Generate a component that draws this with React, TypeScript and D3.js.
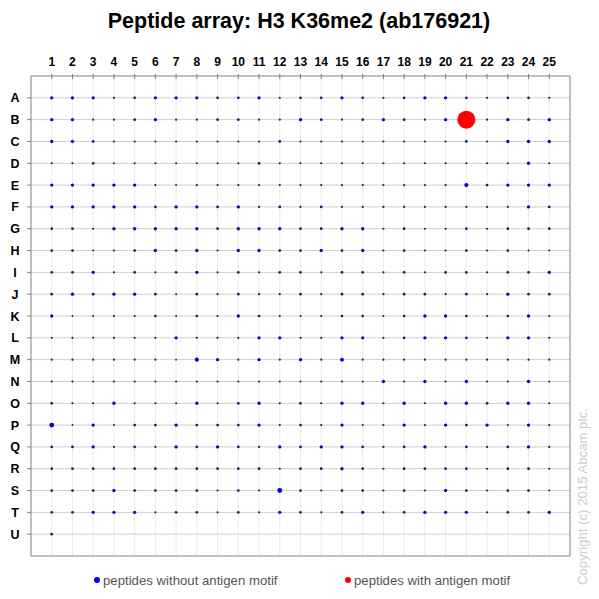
import React from "react";
import * as d3 from "d3";

// labels
const colLabels = d3.range(1, 26).map(String);
const rowLabels = "ABCDEFGHIJKLMNOPQRSTU".split("");

// signal per spot (arbitrary units), rows A..U, columns 1..25
// -1 = no spot
const signals: number[][] = [
  [2.5, 2.5, 2.5, 0.8, 1.5, 2.5, 2.5, 2.5, 1.5, 1.5, 2.5, 0.8, 1.5, 1.5, 2.5, 1.5, 0.8, 1.5, 2.5, 2.5, 1.5, 0.8, 1.5, 1.5, 0.8],
  [2.5, 2.5, 0.8, 0.8, 1.5, 2.5, 0.8, 0.8, 1.5, 1.5, 0.8, 0.8, 2.5, 1.5, 0.8, 1.5, 2.5, 1.5, 0.8, 2.5, 100, 0.8, 2.5, 1.5, 2.5],
  [2.5, 2.5, 1.5, 0.8, 0.8, 0.8, 0.8, 0.8, 0.8, 0.8, 0.8, 1.5, 0.8, 0.8, 0.8, 0.8, 0.8, 0.8, 0.8, 0.8, 1.5, 0.8, 2.5, 2.5, 2.5],
  [0.8, 0.8, 1.5, 0.6, 0.8, 0.8, 0.8, 0.6, 0.8, 0.8, 1.5, 0.8, 0.8, 0.8, 0.8, 0.8, 0.8, 0.8, 0.8, 0.8, 0.8, 0.8, 0.8, 2.5, 0.8],
  [2.5, 2.5, 2.5, 2.5, 2.5, 0.8, 0.6, 0.8, 0.8, 0.8, 0.8, 0.8, 0.8, 0.8, 0.8, 0.8, 0.8, 0.8, 0.8, 0.8, 4, 1.5, 2.5, 2.5, 2.5],
  [2.5, 2.5, 2.5, 2.5, 2.5, 1.5, 2.5, 2.5, 1.5, 2.5, 0.8, 1.5, 0.8, 1.5, 0.8, 0.8, 0.8, 0.8, 0.8, 0.8, 0.8, 0.8, 0.8, 2.5, 1.5],
  [1.5, 1.5, 0.8, 2.5, 2.5, 2.5, 2.5, 2.5, 1.5, 2.5, 2.5, 2.5, 1.5, 1.5, 2.5, 2.5, 0.8, 1.5, 0.8, 0.8, 1.5, 0.8, 1.5, 1.5, 1.5],
  [1.5, 1.5, 0.8, 0.8, 1.5, 2.5, 1.5, 2.5, 0.8, 2.5, 2.5, 1.5, 1.5, 2.5, 1.5, 2.5, 0.8, 1.5, 0.8, 0.8, 1.5, 0.8, 1.5, 0.6, 0.8],
  [1.5, 1.5, 2.5, 0.8, 1.5, 0.8, 1.5, 2.5, 0.8, 1.5, 0.8, 1.5, 1.5, 0.8, 1.5, 1.5, 0.8, 1.5, 0.8, 1.5, 1.5, 0.8, 1.5, 1.5, 2.5],
  [1.5, 2.5, 1.5, 2.5, 2.5, 1.5, 0.6, 1.5, 0.8, 1.5, 0.8, 0.8, 1.5, 0.8, 1.5, 1.5, 0.8, 1.5, 1.5, 0.8, 1.5, 0.8, 2.5, 1.5, 1.5],
  [2.5, 0.6, 0.6, 0.8, 0.8, 1.5, 0.6, 1.5, 0.8, 2.5, 1.5, 0.8, 0.6, 0.8, 1.5, 1.5, 0.6, 1.5, 2.5, 2.5, 1.5, 0.8, 1.5, 2.5, 0.8],
  [0.6, 0.8, 0.6, 0.8, 0.8, 0.8, 2.5, 0.8, 0.8, 0.8, 2.5, 2.5, 0.8, 0.8, 2.5, 2.5, 0.8, 1.5, 2.5, 2.5, 1.5, 0.8, 2.5, 2.5, 0.8],
  [0.8, 0.8, 0.8, 0.8, 0.8, 0.8, 0.6, 4, 2.5, 0.8, 2.5, 0.8, 2.5, 0.8, 3.5, 0.8, 0.8, 0.8, 0.8, 0.8, 0.8, 0.8, 0.8, 0.8, 0.8],
  [0.8, 0.8, 0.8, 0.8, 0.8, 0.8, 0.8, 0.8, 0.8, 0.8, 0.8, 0.8, 0.8, 0.8, 0.8, 0.8, 2.5, 0.8, 2.5, 0.8, 2.5, 0.8, 0.8, 2.5, 0.8],
  [1.5, 0.8, 0.8, 2.5, 0.8, 0.8, 0.8, 2.5, 0.8, 1.5, 2.5, 0.8, 1.5, 0.8, 2.5, 2.5, 0.8, 2.5, 0.8, 2.5, 2.5, 1.5, 2.5, 2.5, 0.8],
  [6, 0.6, 2.5, 0.6, 1.5, 1.5, 2.5, 1.5, 1.5, 1.5, 2.5, 0.8, 1.5, 0.8, 2.5, 0.6, 0.8, 2.5, 0.8, 2.5, 1.5, 2.5, 0.6, 2.5, 0.8],
  [1.5, 1.5, 2.5, 0.8, 1.5, 0.8, 2.5, 1.5, 2.5, 1.5, 0.8, 2.5, 1.5, 2.5, 2.5, 1.5, 0.8, 1.5, 2.5, 0.8, 1.5, 0.8, 1.5, 2.5, 0.8],
  [1.5, 1.5, 1.5, 1.5, 1.5, 1.5, 1.5, 1.5, 1.5, 1.5, 1.5, 0.8, 1.5, 1.5, 2.5, 1.5, 0.8, 1.5, 1.5, 1.5, 1.5, 0.8, 1.5, 1.5, 0.8],
  [1.5, 1.5, 1.5, 2.5, 1.5, 1.5, 1.5, 1.5, 0.8, 1.5, 0.8, 6, 1.5, 0.8, 1.5, 1.5, 0.8, 1.5, 0.8, 2.5, 1.5, 0.8, 1.5, 1.5, 0.8],
  [1.5, 1.5, 2.5, 2.5, 2.5, 0.8, 1.5, 1.5, 0.8, 1.5, 0.8, 2.5, 1.5, 0.8, 1.5, 2.5, 0.8, 1.5, 2.5, 2.5, 2.5, 0.8, 1.5, 1.5, 2.5],
  [1.5, -1, -1, -1, -1, -1, -1, -1, -1, -1, -1, -1, -1, -1, -1, -1, -1, -1, -1, -1, -1, -1, -1, -1, -1],
];

// spots that carry the antigen motif
const motifSpots = ["B21"];

const legendItems = [
  { label: "peptides without antigen motif", color: "#0000ff" },
  { label: "peptides with antigen motif", color: "#ff0000" },
];

const title = "Peptide array: H3 K36me2 (ab176921)";
const copyright = "Copyright (c) 2015 Abcam plc.";

const width = 599;
const height = 599;
const plot = { left: 31, top: 76, right: 570, bottom: 556 };
const font = "'Liberation Sans', Arial, sans-serif";

const App: React.FC = () => {
  const x = d3
    .scaleLinear()
    .domain([0, colLabels.length + 1])
    .range([plot.left, plot.right]);
  const y = d3
    .scaleLinear()
    .domain([0, rowLabels.length + 1])
    .range([plot.top, plot.bottom]);
  const r = d3.scaleSqrt().domain([0, 100]).range([0.3, 9]);
  const blue = d3
    .scaleLinear<string>()
    .domain([0.6, 4])
    .range(["#202058", "#0000e6"])
    .clamp(true);

  const spots = signals.flatMap((row, i) =>
    row
      .map((v, j) => ({
        row: rowLabels[i],
        col: colLabels[j],
        ri: i + 1,
        ci: j + 1,
        v,
      }))
      .filter((d) => d.v >= 0)
  );

  const legendX = [97, 348];

  return (
    <svg
      width={width}
      height={height}
      style={{ position: "absolute", left: 0, top: 0, background: "#fff" }}
      fontFamily={font}
    >
      <rect width={width} height={height} fill="#fff" />
      <text
        x={299}
        y={28}
        textAnchor="middle"
        fontSize={21.5}
        fontWeight="bold"
        fill="#000"
      >
        {title}
      </text>

      {/* vertical grid */}
      {colLabels.map((c, j) => (
        <line
          key={"vg" + c}
          x1={x(j + 1)}
          x2={x(j + 1)}
          y1={plot.top}
          y2={plot.bottom}
          stroke="#ebebeb"
        />
      ))}
      {/* horizontal grid */}
      {rowLabels.map((rl, i) => (
        <line
          key={"hg" + rl}
          x1={plot.left}
          x2={plot.right}
          y1={y(i + 1)}
          y2={y(i + 1)}
          stroke="#cfcfcf"
        />
      ))}

      {/* frame */}
      <rect
        x={plot.left}
        y={plot.top}
        width={plot.right - plot.left}
        height={plot.bottom - plot.top}
        fill="none"
        stroke="#808080"
      />

      {/* top axis */}
      {colLabels.map((c, j) => (
        <g key={"ct" + c}>
          <line
            x1={x(j + 1)}
            x2={x(j + 1)}
            y1={plot.top - 2}
            y2={plot.top + 3}
            stroke="#808080"
          />
          <text
            x={x(j + 1)}
            y={66}
            textAnchor="middle"
            fontSize={12}
            fontWeight="bold"
            fill="#000"
          >
            {c}
          </text>
        </g>
      ))}
      {/* left axis */}
      {rowLabels.map((rl, i) => (
        <g key={"rt" + rl}>
          <line
            x1={plot.left - 4}
            x2={plot.left}
            y1={y(i + 1)}
            y2={y(i + 1)}
            stroke="#808080"
          />
          <text
            x={15}
            y={y(i + 1) + 4.5}
            textAnchor="middle"
            fontSize={12.5}
            fontWeight="bold"
            fill="#000"
          >
            {rl}
          </text>
        </g>
      ))}

      {/* spots */}
      {spots.map((d) => {
        const motif = motifSpots.includes(d.row + d.col);
        return (
          <circle
            key={d.row + d.col}
            cx={x(d.ci)}
            cy={y(d.ri)}
            r={r(d.v)}
            fill={motif ? "#ff0000" : blue(d.v)}
          />
        );
      })}

      {/* legend */}
      {legendItems.map((item, k) => (
        <g key={item.label}>
          <circle cx={legendX[k]} cy={580} r={3} fill={item.color} />
          <text x={legendX[k] + 6} y={584.5} fontSize={13.2} fill="#555">
            {item.label}
          </text>
        </g>
      ))}

      <text
        transform="translate(587,585) rotate(-90)"
        fontSize={13.2}
        fill="#cccccc"
      >
        {copyright}
      </text>
    </svg>
  );
};

export default App;
